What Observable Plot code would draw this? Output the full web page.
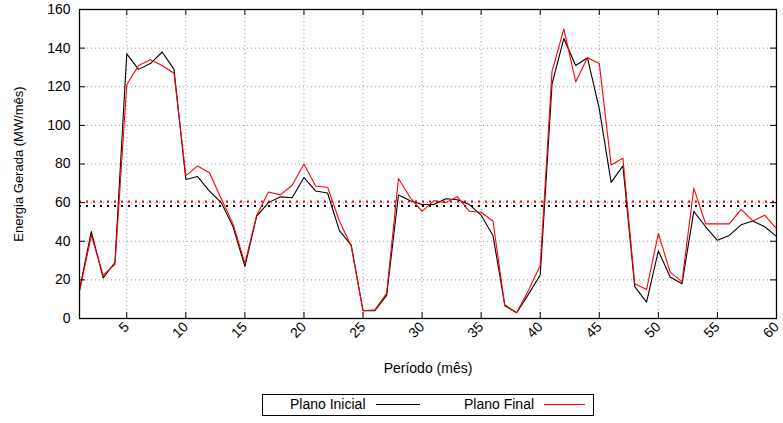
<!DOCTYPE html>
<html>
<head>
<meta charset="utf-8">
<script src="https://cdn.jsdelivr.net/npm/d3@7"></script>
<script src="https://cdn.jsdelivr.net/npm/@observablehq/plot@0.6"></script>
<style>
  body { margin: 0; background: #fff; }
  #wrap { position: relative; width: 783px; height: 423px; font-family: "Liberation Sans", Arial, sans-serif; font-size: 14px; }
  #legend { position: absolute; left: 262px; top: 394px; width: 332px; height: 22px; border: 1px solid #000; box-sizing: border-box; }
  #legend span { position: absolute; top: 1px; white-space: nowrap; }
  #legend i { position: absolute; top: 9px; height: 0; border-top: 1px solid; }
</style>
</head>
<body>
<div id="wrap"></div>
<script>
const months = d3.range(1, 61);
const planoInicial = [15,45,21,29,137,129,132,138,129,72,
  73.5,66,60,47.5,27,53,60,63,62.5,73,
  66,65,45.5,38,4,4,12,64,61,59,
  59,62,61.5,59,53.5,43,7,3,12.5,22.5,
  121.5,145,131,135,108.5,70.5,79,16.5,8.5,35,
  21.5,18,55.5,47.5,40.5,43,48.5,50.5,47.5,42.5];
const planoFinal = [14,43,22.5,28,121,131,134,131,127,74,
  79,75.5,62,49,28.5,53.5,65.5,64,69,80,
  68.5,68,50.5,37.5,4,4.5,13,72.5,62.5,55.5,
  61,60,63,55.5,55,50.5,6.5,3,14.5,27.5,
  128,150,122.5,135,132,79.5,83,18,15,44,
  24,19,67.5,49,49,49,56.5,50.5,53.5,46.5];
const mediaInicial = 58.2;
const mediaFinal = 60.6;
const xTicks = [5,10,15,20,25,30,35,40,45,50,55,60];
const yTicks = [0,20,40,60,80,100,120,140,160];
const seriesNames = ["Plano Inicial", "Plano Final"];

const rows = months.map((m, i) => ({m, a: planoInicial[i], b: planoFinal[i]}));

const W = 783, H = 423, mL = 79, mR = 7, mT = 9, mB = 105;
const innerH = H - mT - mB, innerW = W - mL - mR;

const chart = Plot.plot({
  width: W, height: H,
  marginLeft: mL, marginRight: mR, marginTop: mT, marginBottom: mB,
  style: {fontFamily: '"Liberation Sans", Arial, sans-serif', fontSize: "14px", color: "#000", background: "#fff"},
  x: {domain: [1, 60]},
  y: {domain: [0, 160]},
  marks: [
    Plot.ruleX(xTicks.filter(d => d < 60), {x: d => d, stroke: "#999", strokeWidth: 1, strokeDasharray: "1,3"}),
    Plot.ruleY(yTicks.filter(d => d > 0 && d < 160), {y: d => d, stroke: "#999", strokeWidth: 1, strokeDasharray: "1,3"}),
    Plot.ruleY([mediaFinal], {y: d => d, stroke: "#ff0000", strokeWidth: 2, strokeDasharray: "2,5"}),
    Plot.ruleY([mediaInicial], {y: d => d, stroke: "#000", strokeWidth: 2, strokeDasharray: "2,5"}),
    Plot.line(rows, {x: "m", y: "a", stroke: "#000", strokeWidth: 1.1}),
    Plot.line(rows, {x: "m", y: "b", stroke: "#ff0000", strokeWidth: 1.1}),
    Plot.tickX(xTicks, {x: d => d, insetTop: innerH - 6, stroke: "#000"}),
    Plot.tickX(xTicks, {x: d => d, insetBottom: innerH - 6, stroke: "#000"}),
    Plot.tickY(yTicks, {y: d => d, insetRight: innerW - 6, stroke: "#000"}),
    Plot.tickY(yTicks, {y: d => d, insetLeft: innerW - 6, stroke: "#000"}),
    Plot.frame({stroke: "#000", strokeWidth: 1.3}),
    Plot.axisX(xTicks, {tickSize: 0, tickRotate: -45, tickPadding: 6, label: "Período (mês)", labelAnchor: "center", labelOffset: 54, labelArrow: "none"}),
    Plot.axisY(yTicks, {tickSize: 0, tickPadding: 9, label: null}),
    Plot.axisY([], {tickSize: 0, fontSize: 13, label: "Energia Gerada (MW/mês)", labelAnchor: "center", labelOffset: 66, labelArrow: "none"})
  ]
});
const wrap = document.getElementById("wrap");
wrap.appendChild(chart);
const legend = document.createElement("div");
legend.id = "legend";
legend.innerHTML = `<span style="left:27px">${seriesNames[0]}</span><i style="left:113px;width:44px;border-color:#000"></i>` +
  `<span style="left:201px">${seriesNames[1]}</span><i style="left:281px;width:41px;border-color:#ff0000"></i>`;
wrap.appendChild(legend);
</script>
</body>
</html>
